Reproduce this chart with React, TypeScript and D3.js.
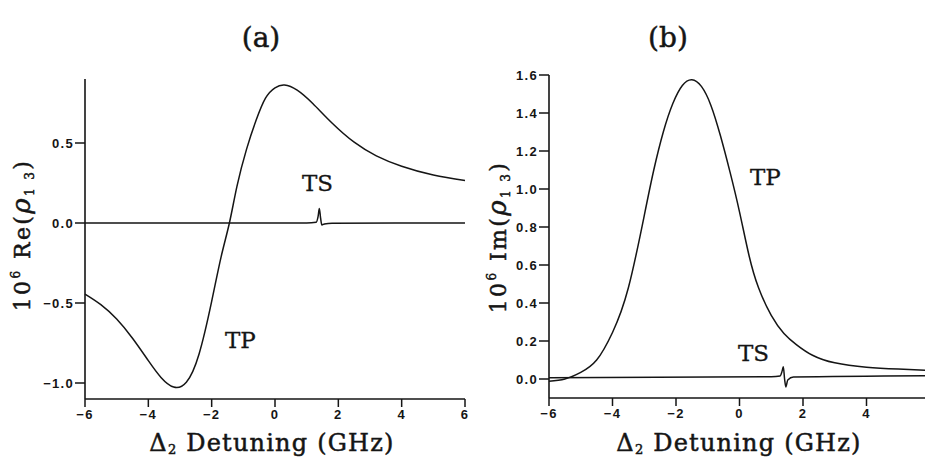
import React from "react";
import * as d3 from "d3";

// ---------- data ----------
const reTPx = [-6, -5.5, -5.0, -4.5, -4.0, -3.6, -3.2, -2.8, -2.4, -2.0, -1.7, -1.44, -1.2, -0.9, -0.6, -0.3, 0.0, 0.3, 0.7, 1.2, 1.8, 2.5, 3.2, 4.0, 5.0, 6.0];
const reTPv = [-0.444, -0.51, -0.6, -0.72, -0.86, -0.965, -1.025, -0.995, -0.82, -0.49, -0.21, 0.0, 0.23, 0.46, 0.64, 0.78, 0.845, 0.862, 0.83, 0.745, 0.625, 0.505, 0.42, 0.355, 0.3, 0.265];

const reTSx = [-6, 1.0, 1.3, 1.36, 1.4, 1.44, 1.48, 1.56, 1.8, 6];
const reTSv = [0, 0, 0.005, 0.04, 0.09, 0.03, -0.012, -0.006, -0.001, 0];

const imTPx = [-6, -5.5, -5.0, -4.5, -4.0, -3.5, -3.0, -2.7, -2.4, -2.1, -1.8, -1.5, -1.2, -0.9, -0.6, -0.3, 0.0, 0.3, 0.6, 1.0, 1.4, 1.8, 2.3, 3.0, 4.0, 5.0, 6.0];
const imTPv = [-0.012, 0.0, 0.035, 0.1, 0.245, 0.48, 0.86, 1.1, 1.3, 1.45, 1.545, 1.575, 1.54, 1.44, 1.28, 1.09, 0.88, 0.65, 0.48, 0.335, 0.24, 0.18, 0.125, 0.085, 0.062, 0.052, 0.045];

const imTSx = [-6, 1.0, 1.28, 1.34, 1.38, 1.42, 1.46, 1.52, 1.7, 6];
const imTSv = [0.007, 0.012, 0.016, 0.04, 0.065, 0.0, -0.042, -0.005, 0.01, 0.017];

const xTicks = [-6, -4, -2, 0, 2, 4, 6];
const xTickLabelsA = [-6, -4, -2, 0, 2, 4, 6];
const xTickLabelsB = [-6, -4, -2, 0, 2, 4];
const yTicksA = [-1.0, -0.5, 0.0, 0.5];
const yTicksB = [0.0, 0.2, 0.4, 0.6, 0.8, 1.0, 1.2, 1.4, 1.6];

const W = 925;
const H = 460;
const INK = "#151515";
const serif = "'DejaVu Serif', serif";
const tickFont = "'Liberation Sans', Arial, sans-serif";

type PanelProps = {
  xRange: [number, number];
  yDomain: [number, number];
  yRange: [number, number];
  yTicks: number[];
  xTickLabels: number[];
  series: { x: number[]; v: number[]; curve: any }[];
  labels: { text: string; x: number; y: number }[];
  title: string;
  titleX: number;
  yLabel: string;
  yLabelX: number;
  yLabelY: number;
  xLabelX: number;
};

function Panel(p: PanelProps) {
  const x = d3.scaleLinear().domain([-6, 6]).range(p.xRange);
  const y = d3.scaleLinear().domain(p.yDomain).range(p.yRange);
  const fmtY = d3.format(".1f");
  const fmtX = d3.format("d");
  const x0 = p.xRange[0];
  const yb = p.yRange[0];
  return (
    <g>
      {/* axes */}
      <line x1={x0} x2={x0} y1={p.yRange[1]} y2={yb} stroke={INK} strokeWidth={1.6} />
      <line x1={x0} x2={p.xRange[1]} y1={yb} y2={yb} stroke={INK} strokeWidth={1.6} />
      {xTicks.map((t) => (
        <line key={"xt" + t} x1={x(t)} x2={x(t)} y1={yb} y2={yb + 8} stroke={INK} strokeWidth={1.5} />
      ))}
      {p.xTickLabels.map((t) => (
        <text key={"xl" + t} x={x(t)} y={yb + 20} textAnchor="middle" fontFamily={tickFont} fontWeight="bold" fontSize={13} letterSpacing={1.3} fill={INK}>
          {fmtX(t)}
        </text>
      ))}
      {p.yTicks.map((t) => (
        <g key={"y" + t}>
          <line x1={x0 - 10} x2={x0} y1={y(t)} y2={y(t)} stroke={INK} strokeWidth={1.5} />
          <text x={x0 - 11} y={y(t)} dy="0.36em" textAnchor="end" fontFamily={tickFont} fontWeight="bold" fontSize={13} letterSpacing={1.3} fill={INK}>
            {fmtY(t)}
          </text>
        </g>
      ))}
      {/* curves */}
      {p.series.map((s, i) => {
        const pts: [number, number][] = s.x.map((xv, j) => [xv, s.v[j]]);
        const line = d3
          .line<[number, number]>()
          .x((d) => x(d[0]))
          .y((d) => y(d[1]))
          .curve(s.curve);
        return <path key={i} d={line(pts) || ""} fill="none" stroke={INK} strokeWidth={1.5} strokeLinejoin="round" />;
      })}
      {p.labels.map((l) => (
        <text key={l.text} x={l.x} y={l.y} fontFamily={serif} fontSize={23} fill={INK} stroke={INK} strokeWidth={0.3}>
          {l.text}
        </text>
      ))}
      {/* panel title */}
      <text x={p.titleX} y={47} textAnchor="middle" fontFamily={serif} fontSize={28} fill={INK} stroke={INK} strokeWidth={0.5}>
        {p.title}
      </text>
      {/* x axis title */}
      <text x={p.xLabelX} y={451} textAnchor="middle" fontFamily={serif} fontSize={24} letterSpacing={1.2} fill={INK} stroke={INK} strokeWidth={0.5}>
        Δ<tspan fontSize={13} dy={3}>2</tspan>
        <tspan dy={-3}> Detuning (GHz)</tspan>
      </text>
      {/* y axis title */}
      <text
        transform={`translate(${p.yLabelX},${p.yLabelY}) rotate(-90)`}
        textAnchor="middle"
        fontFamily={serif}
        fontSize={22}
        letterSpacing={2.4}
        fill={INK}
        stroke={INK}
        strokeWidth={0.5}
      >
        10<tspan fontSize={12} dy={-10}>6</tspan>
        <tspan dy={10}> {p.yLabel}(</tspan>
        <tspan fontSize={26} fontStyle="italic">ρ</tspan>
        <tspan fontSize={12} dy={4}>1 3</tspan>
        <tspan dy={-4}>)</tspan>
      </text>
    </g>
  );
}

export default function App() {
  return (
    <svg
      width={W}
      height={H}
      viewBox={`0 0 ${W} ${H}`}
      style={{ position: "absolute", left: 0, top: 0, background: "#fff" }}
    >
      <rect x={0} y={0} width={W} height={H} fill="#fff" />
      <Panel
        xRange={[85, 465]}
        yDomain={[-1.1, 0.9]}
        yRange={[399, 79]}
        yTicks={yTicksA}
        xTickLabels={xTickLabelsA}
        series={[
          { x: reTPx, v: reTPv, curve: d3.curveNatural },
          { x: reTSx, v: reTSv, curve: d3.curveMonotoneX },
        ]}
        labels={[
          { text: "TS", x: 302, y: 191 },
          { text: "TP", x: 225, y: 348 },
        ]}
        title="(a)"
        titleX={261}
        yLabel="Re"
        yLabelX={30}
        yLabelY={235}
        xLabelX={272}
      />
      <Panel
        xRange={[549, 930]}
        yDomain={[-0.1, 1.6]}
        yRange={[398, 75]}
        yTicks={yTicksB}
        xTickLabels={xTickLabelsB}
        series={[
          { x: imTPx, v: imTPv, curve: d3.curveNatural },
          { x: imTSx, v: imTSv, curve: d3.curveMonotoneX },
        ]}
        labels={[
          { text: "TP", x: 750, y: 185 },
          { text: "TS", x: 738, y: 361 },
        ]}
        title="(b)"
        titleX={668}
        yLabel="Im"
        yLabelX={506}
        yLabelY={237}
        xLabelX={739}
      />
    </svg>
  );
}
